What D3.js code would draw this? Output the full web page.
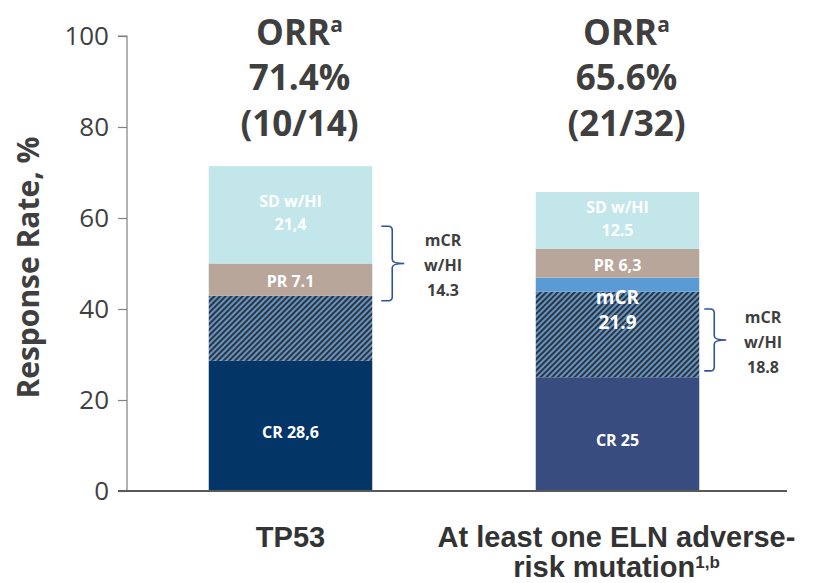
<!DOCTYPE html>
<html>
<head>
<meta charset="utf-8">
<script src="https://cdn.jsdelivr.net/npm/d3@7"></script>
<style>
  html, body { margin: 0; padding: 0; background: #ffffff; }
  svg { display: block; }
</style>
</head>
<body>
<svg id="chart" width="833" height="583"></svg>
<script>
// Response categories (x axis)
const categories = ["TP53", "ELN"];
const categoryLines = [["TP53"], ["At least one ELN adverse-", "risk mutation"]];
const categorySup = ["", "1,b"];

// Stacked segment values, % of patients
const crValues = [28.6, 25];
const mcrHiValues = [14.3, 18.8];      // mCR with HI (hatched)
const mcrOnlyValues = [0, 3.1];        // remaining mCR (solid)
const prValues = [7.1, 6.3];
const sdHiValues = [21.4, 12.5];

// Segment labels as printed
const crLabels = [["CR 28,6"], ["CR 25"]];
const mcrLabels = [[], ["mCR", "21.9"]];
const prLabels = [["PR 7.1"], ["PR 6,3"]];
const sdLabels = [["SD w/HI", "21,4"], ["SD w/HI", "12.5"]];

// Overall response rate annotations
const orrPercent = ["71.4%", "65.6%"];
const orrCounts = ["(10/14)", "(21/32)"];

// mCR w/HI brace annotations (low/high ends in %, label value)
const braceLow = [41.8, 26.4];
const braceHigh = [58.2, 40.0];
const braceValue = ["14.3", "18.8"];

// Y axis ticks
const yTicks = [0, 20, 40, 60, 80, 100];

const svg = d3.select("#chart");
const axisX = 127, baseY = 491, topY = 36;

const y = d3.scaleLinear().domain([0, 100]).range([baseY, topY]);
const x = d3.scaleBand().domain(categories).range([axisX, 781])
  .paddingInner(0.5).paddingOuter(0.25);

// Hatch pattern for mCR w/HI
const defs = svg.append("defs");
const hp = 4.0;
const pat = defs.append("pattern")
  .attr("id", "hatch")
  .attr("patternUnits", "userSpaceOnUse")
  .attr("width", hp).attr("height", hp)
  .attr("patternTransform", "rotate(45)");
pat.append("rect").attr("width", hp).attr("height", hp).attr("fill", "#5b9bd5");
pat.append("rect").attr("width", hp * 0.52).attr("height", hp).attr("fill", "#363132");

const crColors = ["#033567", "#384c80"];

// Build stack rows
const rows = categories.map((c, i) => ({
  cat: c,
  segs: [
    { key: "cr", v: crValues[i], fill: crColors[i], labels: crLabels[i], dy: 6 },
    { key: "mcrHi", v: mcrHiValues[i], fill: "url(#hatch)", labels: [], dy: 0 },
    { key: "mcr", v: mcrOnlyValues[i], fill: "#5b9bd5", labels: [], dy: 0 },
    { key: "pr", v: prValues[i], fill: "#b8a69b", labels: prLabels[i], dy: 2 },
    { key: "sd", v: sdHiValues[i], fill: "#c2e6ea", labels: sdLabels[i], dy: -2 }
  ]
}));
rows.forEach(r => {
  let acc = 0;
  r.segs.forEach(s => { s.y0 = acc; acc += s.v; s.y1 = acc; });
});

const bars = svg.append("g");
rows.forEach((r, i) => {
  const g = bars.append("g");
  g.selectAll("rect").data(r.segs.filter(s => s.v > 0)).join("rect")
    .attr("x", x(r.cat))
    .attr("width", x.bandwidth())
    .attr("y", s => y(s.y1))
    .attr("height", s => y(s.y0) - y(s.y1))
    .attr("fill", s => s.fill);
});

// Segment labels
const labelFont = "'Open Sans', sans-serif";
function centeredLines(g, lines, cx, cy, size, fill, lh) {
  const n = lines.length;
  lines.forEach((t, k) => {
    g.append("text")
      .attr("x", cx)
      .attr("y", cy + (k - (n - 1) / 2) * lh)
      .attr("dy", "0.35em")
      .attr("text-anchor", "middle")
      .attr("font-family", labelFont)
      .attr("font-weight", 700)
      .attr("font-size", size)
      .attr("fill", fill)
      .text(t);
  });
}
const labelsG = svg.append("g");
rows.forEach((r, i) => {
  const cx = x(r.cat) + x.bandwidth() / 2;
  r.segs.forEach(s => {
    if (!s.labels.length) return;
    centeredLines(labelsG, s.labels, cx, (y(s.y0) + y(s.y1)) / 2 + s.dy, 16, "#ffffff", 23);
  });
  // mCR total label sits across the solid and hatched mCR blocks
  if (mcrLabels[i].length) {
    const top = r.segs[2].y1;
    centeredLines(labelsG, mcrLabels[i], cx, y(top) + 32, 19, "#ffffff", 25);
  }
});

// Axes
const yAxis = d3.axisLeft(y).tickValues(yTicks).tickSize(9).tickPadding(9);
const yg = svg.append("g").attr("transform", `translate(${axisX},0)`).call(yAxis);
yg.select(".domain").attr("stroke", "#808080").attr("stroke-width", 1.2)
  .attr("d", `M-9,${y(100)}H0V${y(0)}`);
yg.selectAll(".tick line").attr("stroke", "#808080").attr("stroke-width", 1.2);
yg.selectAll(".tick text")
  .attr("font-family", labelFont)
  .attr("font-size", 26)
  .attr("fill", "#3f3f3f");

svg.append("line")
  .attr("x1", axisX - 9).attr("x2", 787)
  .attr("y1", y(0)).attr("y2", y(0))
  .attr("stroke", "#595959").attr("stroke-width", 2);

// Y axis title
svg.append("text")
  .attr("transform", `translate(39,${(y(0) + y(100)) / 2 + 4}) rotate(-90)`)
  .attr("text-anchor", "middle")
  .attr("font-family", labelFont)
  .attr("font-weight", 700)
  .attr("font-size", 30)
  .attr("fill", "#3f3f3f")
  .text("Response Rate, %");

// Category labels
categories.forEach((c, i) => {
  const cx = x(c) + x.bandwidth() / 2 + (i === 0 ? 0 : -1);
  categoryLines[i].forEach((t, k) => {
    const tx = svg.append("text")
      .attr("x", cx)
      .attr("y", 547 + k * 30)
      .attr("text-anchor", "middle")
      .attr("font-family", "'Liberation Sans', Arial, sans-serif")
      .attr("font-weight", 700)
      .attr("font-size", 29)
      .attr("fill", "#333333")
      .text(t);
    if (k === categoryLines[i].length - 1 && categorySup[i]) {
      tx.append("tspan")
        .attr("dy", -9)
        .attr("font-size", 17)
        .text(categorySup[i]);
    }
  });
});

// ORR annotations above bars
categories.forEach((c, i) => {
  const cx = x(c) + x.bandwidth() / 2 + 9;
  const orr = svg.append("text")
    .attr("x", cx).attr("y", 45)
    .attr("text-anchor", "middle")
    .attr("font-family", labelFont)
    .attr("font-weight", 700)
    .attr("font-size", 35)
    .attr("fill", "#3f3f3f");
  orr.append("tspan").text("ORR");
  orr.append("tspan").attr("dy", -13).attr("font-size", 21).text("a");
  [orrPercent[i], orrCounts[i]].forEach((t, k) => {
    svg.append("text")
      .attr("x", cx).attr("y", 90 + k * 46)
      .attr("text-anchor", "middle")
      .attr("font-family", labelFont)
      .attr("font-weight", 700)
      .attr("font-size", 35)
      .attr("fill", "#3f3f3f")
      .text(t);
  });
});

// Curly braces marking mCR w/HI
const braceGeom = [
  { x0: 9, xv: 20, xt: 32, lx: 443 },
  { x0: 5, xv: 15, xt: 27, lx: 763 }
];
categories.forEach((c, i) => {
  const right = x(c) + x.bandwidth();
  const b = braceGeom[i];
  const yt = y(braceHigh[i]), yb = y(braceLow[i]), ym = (yt + yb) / 2;
  const xl = right + b.x0, xv = right + b.xv, xt = right + b.xt;
  const r = 4;
  const p = d3.path();
  p.moveTo(xl, yt);
  p.lineTo(xv - r, yt);
  p.quadraticCurveTo(xv, yt, xv, yt + r);
  p.lineTo(xv, ym - r);
  p.quadraticCurveTo(xv, ym, xt, ym);
  p.quadraticCurveTo(xv, ym, xv, ym + r);
  p.lineTo(xv, yb - r);
  p.quadraticCurveTo(xv, yb, xv - r, yb);
  p.lineTo(xl, yb);
  svg.append("path")
    .attr("d", p.toString())
    .attr("fill", "none")
    .attr("stroke", "#2f5597")
    .attr("stroke-width", 1.6);
  centeredLines(svg, ["mCR", "w/HI", braceValue[i]], b.lx, ym + 2, 16, "#3f3f3f", 25);
});
</script>
</body>
</html>
